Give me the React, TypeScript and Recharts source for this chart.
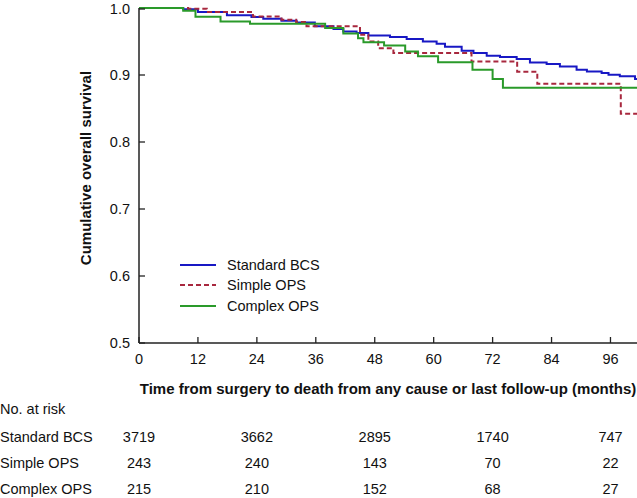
import React from 'react';
import { LineChart, Line, XAxis, YAxis, Legend } from 'recharts';

const xTicks = [0, 12, 24, 36, 48, 60, 72, 84, 96];
const yTicks = [0.5, 0.6, 0.7, 0.8, 0.9, 1.0];

// Kaplan-Meier steps (months, survival)
const standardTimes = [0, 9, 12, 17.9, 22.9, 25.3, 29, 32.1, 35.8, 39.6, 41.6, 44.3, 46.7, 51.1, 54.5, 57.8, 60.6, 62.3, 65.7, 68.1, 70.8, 73.5, 76.9, 79.6, 83, 85.7, 89.1, 91.2, 94.2, 95.6, 97.9, 101, 101.4];
const standardSurvival = [1.0, 0.998, 0.994, 0.989, 0.9866, 0.984, 0.981, 0.9785, 0.9726, 0.9686, 0.965, 0.9627, 0.959, 0.9567, 0.9537, 0.95, 0.9467, 0.942, 0.9363, 0.9328, 0.9288, 0.927, 0.924, 0.9188, 0.9164, 0.9128, 0.908, 0.9054, 0.903, 0.9004, 0.898, 0.894, 0.894];

const simpleTimes = [0, 10, 13.8, 23.2, 29, 32, 34.1, 45, 46.7, 48.7, 51.8, 67.7, 77.0, 81.1, 98.1, 101.4];
const simpleSurvival = [1.0, 0.999, 0.994, 0.9875, 0.9826, 0.979, 0.9726, 0.96, 0.95, 0.94, 0.933, 0.92, 0.905, 0.887, 0.842, 0.842];

const complexTimes = [0, 9, 11.5, 16.6, 22.6, 37.9, 41.6, 44.6, 45.7, 49.9, 54.2, 56.8, 60.9, 67.9, 72.0, 74.1, 101.4];
const complexSurvival = [1.0, 0.996, 0.987, 0.98, 0.9766, 0.97, 0.962, 0.955, 0.949, 0.944, 0.935, 0.928, 0.919, 0.908, 0.894, 0.881, 0.881];

const riskTimes = [0, 24, 48, 72, 96];
const riskGroups = ['Standard BCS', 'Simple OPS', 'Complex OPS'];
const standardRisk = [3719, 3662, 2895, 1740, 747];
const simpleRisk = [243, 240, 143, 70, 22];
const complexRisk = [215, 210, 152, 68, 27];

const toPoints = (ts: number[], ss: number[]) => ts.map((t, i) => ({ t, s: ss[i] }));
const standardData = toPoints(standardTimes, standardSurvival);
const simpleData = toPoints(simpleTimes, simpleSurvival);
const complexData = toPoints(complexTimes, complexSurvival);
const riskRows = [standardRisk, simpleRisk, complexRisk];

const FONT = '"Liberation Sans", Arial, Helvetica, sans-serif';
const AXIS = '#222';
const BLUE = '#1818c4';
const RED = '#a8283e';
const GREEN = '#2a9a2a';

const series = [
  { name: 'Standard BCS', color: BLUE, dash: undefined },
  { name: 'Simple OPS', color: RED, dash: '5 3' },
  { name: 'Complex OPS', color: GREEN, dash: undefined },
];

const XTick = (props: any) => {
  const { x, y, payload } = props;
  const v = payload.value;
  const i = riskTimes.indexOf(v);
  const rowY = [442, 468, 494];
  return (
    <g fontFamily={FONT} fontSize={14.5} fill="#111">
      <line x1={x} x2={x} y1={y} y2={y - 6} stroke={AXIS} strokeWidth={1.3} />
      <text x={x} y={y + 21} textAnchor="middle">{v}</text>
      {i >= 0 &&
        riskRows.map((row, r) => (
          <text key={r} x={x} y={rowY[r]} textAnchor="middle">{row[i]}</text>
        ))}
      {v === 0 && (
        <>
          <text x={0} y={414} textAnchor="start">No. at risk</text>
          {riskGroups.map((g, r) => (
            <text key={g} x={0} y={rowY[r]} textAnchor="start">{g}</text>
          ))}
        </>
      )}
    </g>
  );
};

const YTick = (props: any) => {
  const { x, y, payload } = props;
  return (
    <g fontFamily={FONT} fontSize={14.5} fill="#111">
      <line x1={x + 9} x2={x + 15} y1={y} y2={y} stroke={AXIS} strokeWidth={1.3} />
      <text x={x} y={y + 5} textAnchor="end">{payload.value.toFixed(1)}</text>
    </g>
  );
};

const LegendBox = () => (
  <div style={{ fontFamily: FONT, fontSize: 14.5, color: '#111' }}>
    {series.map((s) => (
      <div key={s.name} style={{ display: 'flex', alignItems: 'center', height: 20.3 }}>
        <svg width={36} height={4} style={{ marginRight: 11 }}>
          <line x1={0} x2={36} y1={2} y2={2} stroke={s.color} strokeWidth={2} strokeDasharray={s.dash} />
        </svg>
        <span>{s.name}</span>
      </div>
    ))}
  </div>
);

export default function App() {
  return (
    <div style={{ position: 'absolute', left: 0, top: 0, width: 637, height: 498, background: '#fff' }}>
      <LineChart width={637} height={498} margin={{ top: 8, right: 0, bottom: 0, left: 0 }}>
        <XAxis
          dataKey="t"
          type="number"
          domain={[0, 101.4]}
          ticks={xTicks}
          allowDataOverflow
          height={155}
          tickSize={0}
          tickMargin={0}
          tickLine={false}
          tick={<XTick />}
          axisLine={{ stroke: AXIS, strokeWidth: 1.5 }}
          label={{
            content: () => (
              <text x={388} y={394} textAnchor="middle" fontFamily={FONT} fontSize={15} fontWeight="bold" fill="#111">
                Time from surgery to death from any cause or last follow-up (months)
              </text>
            ),
          }}
        />
        <YAxis
          type="number"
          domain={[0.5, 1.0]}
          ticks={yTicks}
          width={139}
          tickSize={0}
          tickMargin={9}
          tickLine={false}
          tick={<YTick />}
          axisLine={{ stroke: AXIS, strokeWidth: 1.5 }}
          label={{
            content: () => (
              <text
                x={85}
                y={168}
                transform="rotate(-90 85 168)"
                textAnchor="middle"
                dominantBaseline="central"
                fontFamily={FONT}
                fontSize={15}
                fontWeight="bold"
                fill="#111"
              >
                Cumulative overall survival
              </text>
            ),
          }}
        />
        <Legend
          layout="vertical"
          align="center"
          verticalAlign="middle"
          content={<LegendBox />}
          wrapperStyle={{ left: 180, top: 255, width: 'auto' }}
        />
        <Line data={standardData} dataKey="s" name="Standard BCS" type="stepAfter" stroke={BLUE} strokeWidth={2} dot={false} isAnimationActive={false} />
        <Line data={simpleData} dataKey="s" name="Simple OPS" type="stepAfter" stroke={RED} strokeWidth={2} strokeDasharray="5 3" dot={false} isAnimationActive={false} />
        <Line data={complexData} dataKey="s" name="Complex OPS" type="stepAfter" stroke={GREEN} strokeWidth={2} dot={false} isAnimationActive={false} />
      </LineChart>
    </div>
  );
}
